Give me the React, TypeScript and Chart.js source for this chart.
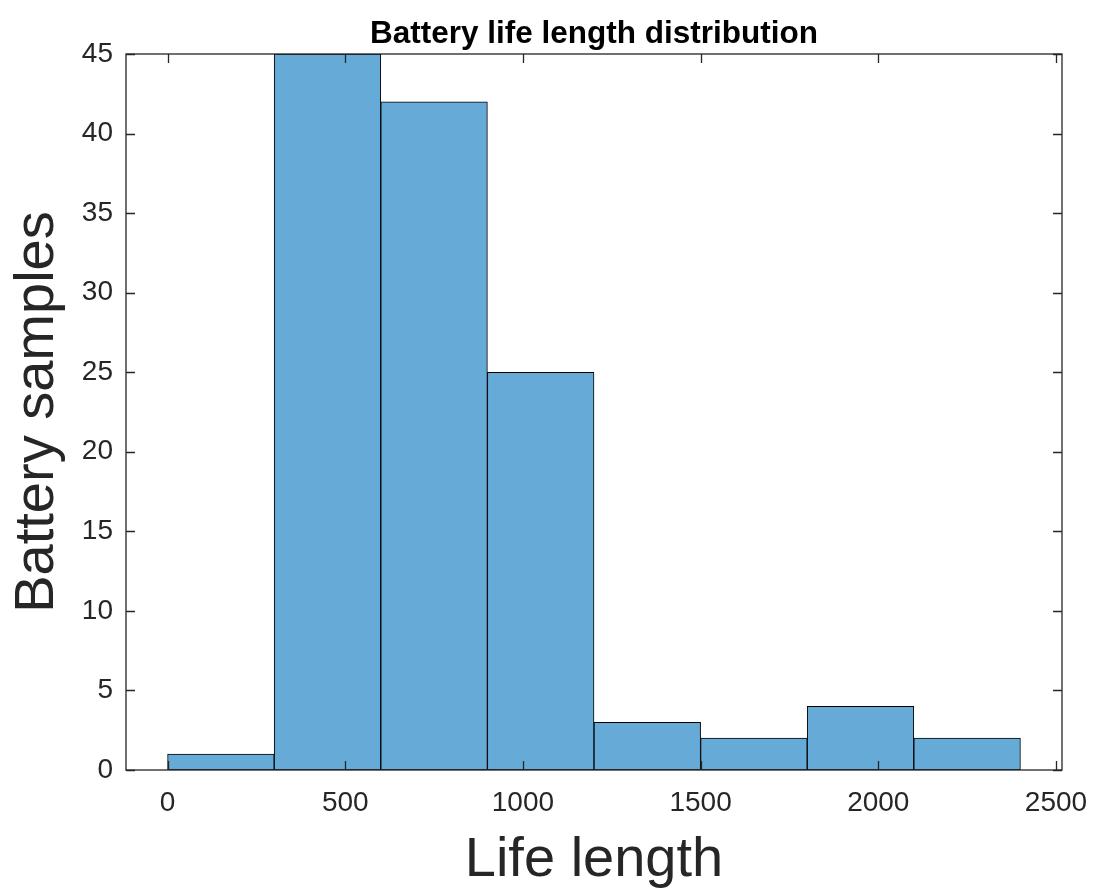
import React, { useEffect, useRef } from "react";
import { Chart, registerables } from "chart.js";

Chart.register(...registerables);

// Histogram bins: left edges (life length) and sample counts per bin
const binEdges = [0, 300, 600, 900, 1200, 1500, 1800, 2100];
const binWidth = 300;
const counts = [1, 45, 42, 25, 3, 2, 4, 2];

// Axis ranges and tick values
const xRange = [-117, 2517];
const xTicks = [0, 500, 1000, 1500, 2000, 2500];
const yRange = [0, 45];
const yStep = 5;

const titleText = "Battery life length distribution";
const xTitle = "Life length";
const yTitle = "Battery samples";

const AXIS_COLOR = "#262626";
const BAR_FILL = "rgb(102,170,215)";
const FONT = "'Liberation Sans', Arial, Helvetica, sans-serif";

// Box around the plot area plus inward tick marks on all four sides
const boxTicksPlugin = {
  id: "boxTicks",
  afterDatasetsDraw(chart: any) {
    const { ctx, chartArea, scales } = chart;
    const { left, right, top, bottom } = chartArea;
    const len = 9;
    ctx.save();
    ctx.strokeStyle = AXIS_COLOR;
    ctx.lineWidth = 1.3;
    ctx.beginPath();
    for (const t of scales.x.ticks) {
      const px = Math.round(scales.x.getPixelForValue(t.value)) + 0.5;
      ctx.moveTo(px, bottom);
      ctx.lineTo(px, bottom - len);
      ctx.moveTo(px, top);
      ctx.lineTo(px, top + len);
    }
    for (const t of scales.y.ticks) {
      const py = Math.round(scales.y.getPixelForValue(t.value)) + 0.5;
      ctx.moveTo(left, py);
      ctx.lineTo(left + len, py);
      ctx.moveTo(right, py);
      ctx.lineTo(right - len, py);
    }
    ctx.stroke();
    ctx.strokeRect(left, top, right - left, bottom - top);
    ctx.restore();
  },
};

export default function App() {
  const canvasRef = useRef<HTMLCanvasElement | null>(null);

  useEffect(() => {
    const canvas = canvasRef.current;
    if (!canvas) return;
    const chart = new Chart(canvas, {
      type: "bar",
      data: {
        datasets: [
          {
            data: binEdges.map((e, i) => ({ x: e + binWidth / 2, y: counts[i] })),
            backgroundColor: BAR_FILL,
            borderColor: "#000000",
            borderWidth: 1,
            borderSkipped: false,
            barPercentage: 1,
            categoryPercentage: 1,
          },
        ],
      },
      plugins: [boxTicksPlugin],
      options: {
        responsive: false,
        animation: false,
        events: [],
        layout: { padding: { top: 0, right: 34, bottom: 0, left: 0 } },
        plugins: {
          legend: { display: false },
          tooltip: { enabled: false },
          title: {
            display: true,
            text: titleText,
            fullSize: false,
            color: "#000000",
            font: { family: FONT, size: 31.5, weight: "bold" },
            padding: { top: 15, bottom: 1.2 },
          },
        },
        scales: {
          x: {
            type: "linear",
            min: xRange[0],
            max: xRange[1],
            offset: false,
            grid: { display: false, drawTicks: false },
            border: { display: false },
            afterBuildTicks: (scale: any) => {
              scale.ticks = xTicks.map((v) => ({ value: v }));
            },
            afterFit: (scale: any) => {
              scale.height = 125;
              scale.paddingLeft = 0;
              scale.paddingRight = 0;
            },
            ticks: {
              color: AXIS_COLOR,
              font: { family: FONT, size: 28 },
              padding: 16,
              maxRotation: 0,
              callback: (v: any) => String(v),
            },
            title: {
              display: true,
              text: xTitle,
              color: AXIS_COLOR,
              font: { family: FONT, size: 56 },
              padding: { top: 0, bottom: 1 },
            },
          },
          y: {
            min: yRange[0],
            max: yRange[1],
            grid: { display: false, drawTicks: false },
            border: { display: false },
            afterFit: (scale: any) => {
              scale.width = 126;
              scale.paddingTop = 0;
              scale.paddingBottom = 0;
            },
            ticks: {
              stepSize: yStep,
              color: AXIS_COLOR,
              font: { family: FONT, size: 28 },
              padding: 13,
            },
            title: {
              display: true,
              text: yTitle,
              color: AXIS_COLOR,
              font: { family: FONT, size: 56 },
              padding: { top: 4, bottom: 0 },
            },
          },
        },
      },
    });
    return () => chart.destroy();
  }, []);

  return (
    <div style={{ position: "absolute", left: 0, top: 0, width: 1096, height: 895, background: "#ffffff" }}>
      <canvas ref={canvasRef} width={1096} height={895} />
    </div>
  );
}
